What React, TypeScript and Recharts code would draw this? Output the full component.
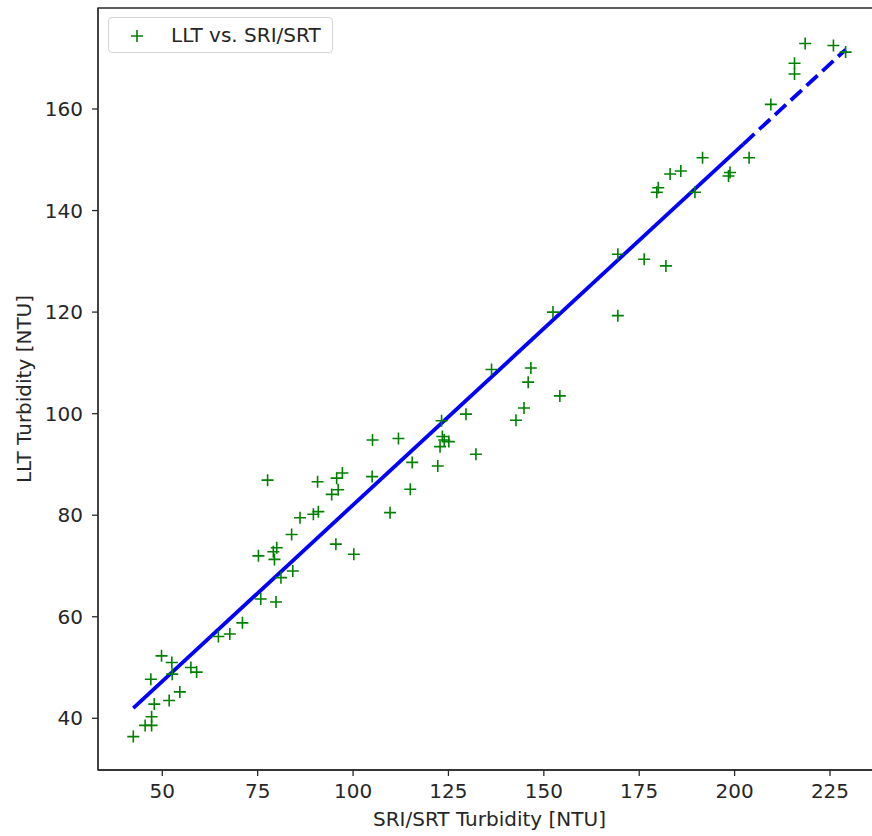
import React from 'react';
import { ScatterChart, Scatter, XAxis, YAxis, ReferenceArea, Legend, Label } from 'recharts';

// SRI/SRT turbidity (x) and LLT turbidity (y)
const sriSrt = [
  42.4, 45.5, 47.2, 47.2, 47.9, 47.0, 49.8, 52.5, 52.6, 51.8, 54.6, 57.5, 59.0, 64.7, 67.7, 71.0,
  77.6, 105.1, 111.9, 115.5, 115.0, 109.7, 105.0, 97.2, 95.7, 96.1, 94.4, 90.7, 90.9, 89.6, 86.1,
  83.9, 80.0, 79.1, 79.4, 75.2, 84.2, 81.1, 75.8, 79.8, 95.5, 100.2,
  136.3, 146.6, 145.9, 154.2, 144.8, 142.7, 129.6, 123.2, 123.4, 125.1, 123.9, 122.8, 132.2, 122.2,
  152.4, 169.4, 176.3, 182.0, 169.4, 179.6, 180.0, 183.1, 185.9, 189.6, 198.8, 198.4, 191.6, 203.8,
  218.5, 225.9, 229.1, 215.7, 215.7, 209.5,
];
const llt = [
  36.4, 38.6, 38.6, 40.3, 42.8, 47.7, 52.3, 51.0, 48.7, 43.5, 45.2, 50.0, 49.1, 56.1, 56.6, 58.8,
  86.9, 94.8, 95.1, 90.4, 85.1, 80.5, 87.6, 88.3, 87.3, 85.0, 84.1, 86.6, 80.7, 80.2, 79.5,
  76.2, 73.6, 72.8, 71.3, 72.0, 69.0, 67.7, 63.5, 62.9, 74.3, 72.3,
  108.7, 109.0, 106.2, 103.5, 101.1, 98.7, 99.9, 98.6, 95.5, 94.5, 94.8, 93.5, 92.0, 89.7,
  120.0, 131.4, 130.4, 129.1, 119.3, 143.6, 144.5, 147.2, 147.8, 143.6, 147.5, 146.8, 150.4, 150.4,
  172.9, 172.5, 171.2, 169.0, 166.9, 160.9,
];

// Fitted line (solid-looking part, then dashed part)
const fitSolidX = [42.4, 202.3];
const fitSolidY = [42.0, 153.1];
const fitDashX = [202.3, 229.1];
const fitDashY = [153.1, 171.7];

const xTicks = [50, 75, 100, 125, 150, 175, 200, 225];
const yTicks = [40, 60, 80, 100, 120, 140, 160];
const xDomain = [33.15, 238.37];
const yDomain = [29.82, 179.89];

const legendLabel = 'LLT vs. SRI/SRT';
const xLabel = 'SRI/SRT Turbidity [NTU]';
const yLabel = 'LLT Turbidity [NTU]';

const points = sriSrt.map((x, i) => ({ x, y: llt[i] }));
const fitSolid = fitSolidX.map((x, i) => ({ x, y: fitSolidY[i] }));
const fitDash = fitDashX.map((x, i) => ({ x, y: fitDashY[i] }));

const FONT = '"DejaVu Sans", sans-serif';
const FS = 20;
const TEXT = '#262626';
const SPINE = '#2a2a2a';
const GREEN = '#008000';
const BLUE = '#0000ff';

const Plus = (props: any) => {
  const { cx, cy } = props;
  if (cx == null || cy == null) return <g />;
  return (
    <path
      d={`M${cx - 6},${cy}H${cx + 6}M${cx},${cy - 6}V${cy + 6}`}
      stroke={GREEN}
      strokeWidth={1.6}
      fill="none"
    />
  );
};
const NoShape = () => <g />;

const LegendBox = () => (
  <div
    style={{
      width: 225,
      height: 36,
      boxSizing: 'border-box',
      border: '1px solid #d4d4d4',
      borderRadius: 4,
      background: 'rgba(255,255,255,0.8)',
      position: 'relative',
      fontFamily: FONT,
      fontSize: FS,
      color: TEXT,
    }}
  >
    <svg width={20} height={20} style={{ position: 'absolute', left: 18, top: 8 }}>
      <path d="M4,10H16M10,4V16" stroke={GREEN} strokeWidth={1.6} fill="none" />
    </svg>
    <span style={{ position: 'absolute', left: 62, top: 5, lineHeight: '24px', whiteSpace: 'nowrap' }}>
      {legendLabel}
    </span>
  </div>
);

const YLabelContent = (props: any) => {
  const vb = props.viewBox || { x: 0, y: 8, width: 98, height: 762 };
  const cx = vb.x + 31;
  const cy = vb.y + vb.height / 2;
  return (
    <text
      x={cx}
      y={cy}
      transform={`rotate(-90 ${cx} ${cy})`}
      textAnchor="middle"
      fill={TEXT}
      fontSize={FS}
      fontFamily={FONT}
    >
      {yLabel}
    </text>
  );
};

export default function App() {
  return (
    <div
      style={{
        position: 'absolute',
        left: 0,
        top: 0,
        width: 872,
        height: 836,
        overflow: 'hidden',
        background: '#fff',
      }}
    >
      <ScatterChart
        width={886}
        height={836}
        margin={{ top: 8, right: 5, bottom: 0, left: 0 }}
        style={{ fontFamily: FONT }}
      >
        <XAxis
          type="number"
          dataKey="x"
          domain={xDomain}
          ticks={xTicks}
          allowDataOverflow
          height={66}
          tickSize={6}
          tickMargin={8}
          axisLine={{ stroke: SPINE, strokeWidth: 1.3 }}
          tickLine={{ stroke: SPINE, strokeWidth: 1.3 }}
          tick={{ fontSize: FS, fill: TEXT, fontFamily: FONT }}
        >
          <Label
            value={xLabel}
            position="insideBottom"
            offset={10}
            fill={TEXT}
            fontSize={FS}
            fontFamily={FONT}
          />
        </XAxis>
        <YAxis
          type="number"
          dataKey="y"
          domain={yDomain}
          ticks={yTicks}
          allowDataOverflow
          width={98}
          tickSize={6}
          tickMargin={9}
          axisLine={{ stroke: SPINE, strokeWidth: 1.3 }}
          tickLine={{ stroke: SPINE, strokeWidth: 1.3 }}
          tick={{ fontSize: FS, fill: TEXT, fontFamily: FONT }}
        >
          <Label content={YLabelContent} />
        </YAxis>
        <ReferenceArea
          x1={xDomain[0]}
          x2={xDomain[1]}
          y1={yDomain[0]}
          y2={yDomain[1]}
          fill="none"
          fillOpacity={0}
          stroke={SPINE}
          strokeWidth={1.3}
          ifOverflow="visible"
        />
        <Scatter
          data={fitSolid}
          shape={NoShape}
          line={{ stroke: BLUE, strokeWidth: 3.8 }}
          lineType="joint"
          legendType="none"
          isAnimationActive={false}
        />
        <Scatter
          data={fitDash}
          shape={NoShape}
          line={{ stroke: BLUE, strokeWidth: 3.8, strokeDasharray: '15 6.5' }}
          lineType="joint"
          legendType="none"
          isAnimationActive={false}
        />
        <Scatter data={points} shape={Plus} isAnimationActive={false} name={legendLabel} />
        <Legend
          layout="horizontal"
          verticalAlign="middle"
          align="center"
          wrapperStyle={{ top: 17, left: 108, width: 225, height: 36 }}
          content={LegendBox}
        />
      </ScatterChart>
    </div>
  );
}
